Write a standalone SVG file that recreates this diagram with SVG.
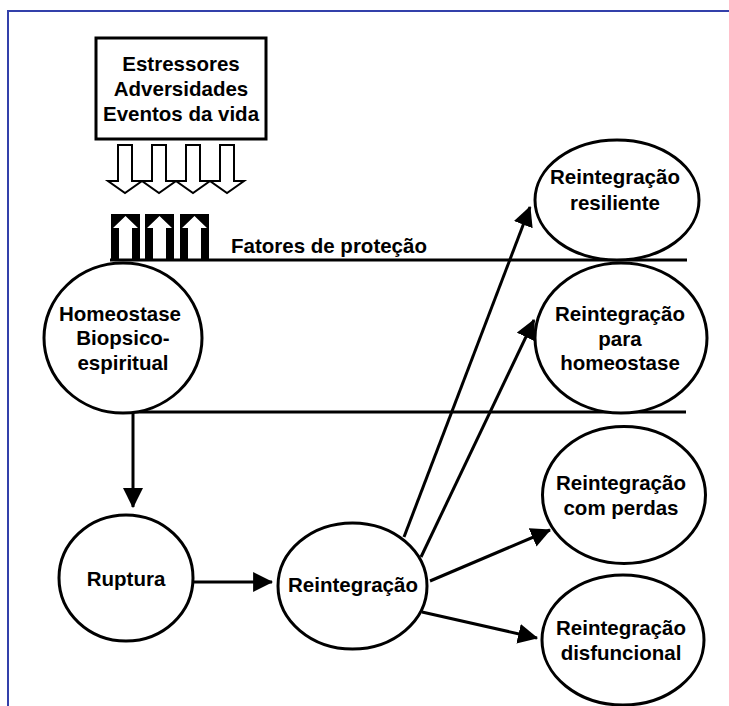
<svg xmlns="http://www.w3.org/2000/svg" width="729" height="706" viewBox="0 0 729 706">
<style>
  .t { font-family: "Liberation Sans", Arial, sans-serif; font-weight: bold; font-size: 20.5px; fill: #000; text-anchor: middle; }
  .n { fill: #fff; stroke: #000; stroke-width: 3; }
  .c { stroke: #000; stroke-width: 3; fill: none; }
  .da { fill: #fff; stroke: #000; stroke-width: 2; }
</style>
<defs>
  <marker id="ah" markerUnits="userSpaceOnUse" markerWidth="20" markerHeight="20" viewBox="0 0 18 18" refX="17" refY="9" orient="auto">
    <path d="M0,0 L18,9 L0,18 Z" fill="#000"/>
  </marker>
</defs>
<rect width="729" height="706" fill="#fff"/>
<path d="M8,706 V11 H729" fill="none" stroke="#3340aa" stroke-width="2"/>

<g id="stressors">
  <rect x="96" y="38" width="170" height="101" class="n"/>
  <text class="t" x="181" y="71">Estressores</text>
  <text class="t" x="181" y="96">Adversidades</text>
  <text class="t" x="181" y="121">Eventos da vida</text>
</g>

<g id="stress-arrows">
  <path class="da" d="M118,145 H132 V181 H142 L125,193 L108,181 H118 Z"/>
  <path class="da" d="M152,145 H166 V181 H176 L159,193 L142,181 H152 Z"/>
  <path class="da" d="M186,145 H200 V181 H210 L193,193 L176,181 H186 Z"/>
  <path class="da" d="M220,145 H234 V181 H244 L227,193 L210,181 H220 Z"/>
</g>

<g id="protection-arrows">
  <rect x="111" y="214" width="29" height="46" fill="#000"/>
  <path d="M125.5,216 L138,228 H132 V260 H119 V228 H113 Z" fill="#fff"/>
  <rect x="145" y="214" width="29" height="46" fill="#000"/>
  <path d="M159.5,216 L172,228 H166 V260 H153 V228 H147 Z" fill="#fff"/>
  <rect x="180" y="214" width="29" height="46" fill="#000"/>
  <path d="M194.5,216 L207,228 H201 V260 H188 V228 H182 Z" fill="#fff"/>
</g>

<g id="protection-label">
  <text class="t" x="231" y="253" style="text-anchor:start">Fatores de proteção</text>
</g>

<g id="connectors">
  <line class="c" x1="110" y1="260" x2="687" y2="260"/>
  <line class="c" x1="133" y1="412" x2="686" y2="412"/>
  <line class="c" x1="133" y1="412" x2="133" y2="507" marker-end="url(#ah)"/>
  <line class="c" x1="193" y1="582" x2="272" y2="582" marker-end="url(#ah)"/>
  <line class="c" x1="404" y1="537" x2="530" y2="207" marker-end="url(#ah)"/>
  <line class="c" x1="421" y1="557" x2="534" y2="320" marker-end="url(#ah)"/>
  <line class="c" x1="430" y1="581" x2="550" y2="530" marker-end="url(#ah)"/>
  <line class="c" x1="422" y1="612" x2="537" y2="638" marker-end="url(#ah)"/>
</g>

<g id="homeostase">
  <ellipse class="n" cx="123" cy="338" rx="79" ry="75"/>
  <text class="t" x="120" y="321">Homeostase</text>
  <text class="t" x="123" y="345">Biopsico-</text>
  <text class="t" x="123" y="370">espiritual</text>
</g>

<g id="ruptura">
  <ellipse class="n" cx="126" cy="578" rx="67" ry="63"/>
  <text class="t" x="126" y="586">Ruptura</text>
</g>

<g id="reintegracao">
  <ellipse class="n" cx="352.5" cy="586" rx="74.5" ry="63"/>
  <text class="t" x="353" y="592">Reintegração</text>
</g>

<g id="resiliente">
  <ellipse class="n" cx="617" cy="200" rx="82" ry="60"/>
  <text class="t" x="615" y="184">Reintegração</text>
  <text class="t" x="615" y="210">resiliente</text>
</g>

<g id="homeostase-r">
  <ellipse class="n" cx="621" cy="338" rx="86" ry="75"/>
  <text class="t" x="620" y="321">Reintegração</text>
  <text class="t" x="620" y="346">para</text>
  <text class="t" x="620" y="370">homeostase</text>
</g>

<g id="perdas">
  <ellipse class="n" cx="624" cy="495" rx="81.5" ry="68.5"/>
  <text class="t" x="621" y="490">Reintegração</text>
  <text class="t" x="621" y="515">com perdas</text>
</g>

<g id="disfuncional">
  <ellipse class="n" cx="623" cy="640" rx="81" ry="65"/>
  <text class="t" x="621" y="635">Reintegração</text>
  <text class="t" x="621" y="660">disfuncional</text>
</g>
</svg>
